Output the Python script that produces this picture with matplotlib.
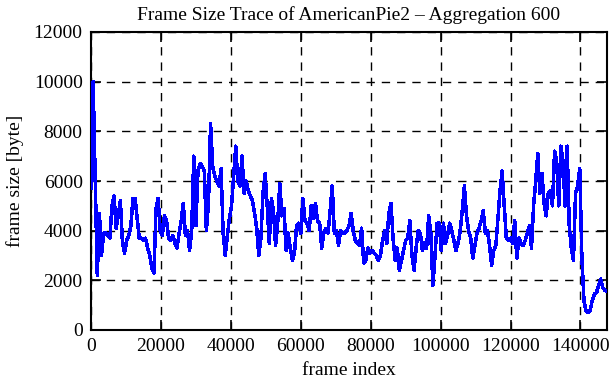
import numpy as np
import matplotlib
matplotlib.use("Agg")
import matplotlib.pyplot as plt

# Aggregated frame sizes (bytes), one value per 600 frames
agg = 600
frame_size = [
    5700, 10000, 6000, 2200, 4700, 3000, 3900, 3900, 3800, 3700,
    5000, 5400, 4100, 4600, 5200, 3500, 3100, 3600, 3800, 4200,
    5300, 5300, 4500, 3700, 3700, 3600, 3700, 3300, 3000, 2500,
    2300, 4900, 5300, 4000, 3800, 4600, 4400, 3700, 3600, 3800,
    3500, 3300, 3900, 4400, 5100, 3800, 4000, 3200, 4000, 7000,
    4200, 6400, 6700, 6600, 6400, 4000, 5100, 8300, 6600, 6200,
    6000, 5800, 6500, 3900, 3000, 3800, 4500, 5000, 6200, 7400,
    6000, 5800, 7000, 5500, 6000, 5600, 5400, 5200, 4700, 4100,
    3000, 3700, 5500, 6300, 5000, 3500, 5300, 4800, 3400, 4300,
    5900, 4600, 4900, 3200, 3900, 3300, 2800, 3100, 4200, 4300,
    3900, 5300, 4400, 4300, 4000, 5000, 4500, 5100, 4400, 4300,
    3300, 3900, 4100, 3900, 4800, 5800, 3900, 4000, 3400, 4000,
    3900, 3900, 4000, 4200, 4700, 4000, 3600, 3500, 3400, 4100,
    2700, 2800, 3300, 3100, 3200, 3100, 3000, 2800, 3000, 3600,
    4000, 3500, 4700, 5100, 3700, 2800, 3300, 2400, 2800, 3200,
    3600, 3700, 4400, 3000, 2400, 3300, 4000, 3900, 3200, 3500,
    3300, 4600, 3900, 1800, 3000, 4300, 4300, 3200, 4300, 3500,
    3800, 4300, 4000, 3600, 3200, 3500, 4000, 4800, 5800, 4600,
    4000, 3700, 2900, 3400, 3900, 4100, 4400, 4800, 3900, 4000,
    3400, 2600, 3200, 3400, 4500, 5600, 6400, 5000, 3700, 3600,
    3700, 3500, 4400, 2900, 3700, 3500, 3400, 3600, 3900, 4200,
    3300, 5000, 6000, 7100, 5500, 6300, 5100, 4600, 5500, 5600,
    5000, 7200, 6800, 5000, 7400, 6800, 5000, 7400, 4200, 3300,
    2800, 5500, 5800, 6500, 3000, 1200, 750, 700, 800, 1200,
    1450, 1500, 1800, 2050, 1700, 1600, 1550,
]
frame_index = np.arange(len(frame_size)) * agg

x_ticks = [0, 20000, 40000, 60000, 80000, 100000, 120000, 140000]
y_ticks = [0, 2000, 4000, 6000, 8000, 10000, 12000]

plt.rcParams['font.family'] = ['Liberation Serif', 'DejaVu Serif']
fs = 14

fig = plt.figure(figsize=(6.11, 3.80), dpi=100)
ax = fig.add_axes([91/611, 1 - 330/380, (607 - 91)/611, (330 - 32)/380])

ax.plot(frame_index, frame_size, color='#0000ff', linewidth=1.8,
        antialiased=False, zorder=3)

ax.set_xlim(0, frame_index[-1])
ax.set_ylim(0, 12000)
ax.set_xticks(x_ticks)
ax.set_yticks(y_ticks)
ax.set_xticklabels([str(t) for t in x_ticks], fontsize=fs)
ax.set_yticklabels([str(t) for t in y_ticks], fontsize=fs)
ax.tick_params(direction='in', length=7, width=1.2, top=True, right=True, pad=6, colors='black')
ax.grid(True, color='black', linestyle=(0, (6, 5)), linewidth=1.0, zorder=1)
for s in ax.spines.values():
    s.set_linewidth(1.5)

ax.set_xlabel('frame index', fontsize=fs, labelpad=5)
ax.set_ylabel('frame size [byte]', fontsize=fs, labelpad=7)
ax.set_title('Frame Size Trace of AmericanPie2 \u2013 Aggregation 600', fontsize=fs, pad=9)

fig.savefig('out.png', dpi=100)
